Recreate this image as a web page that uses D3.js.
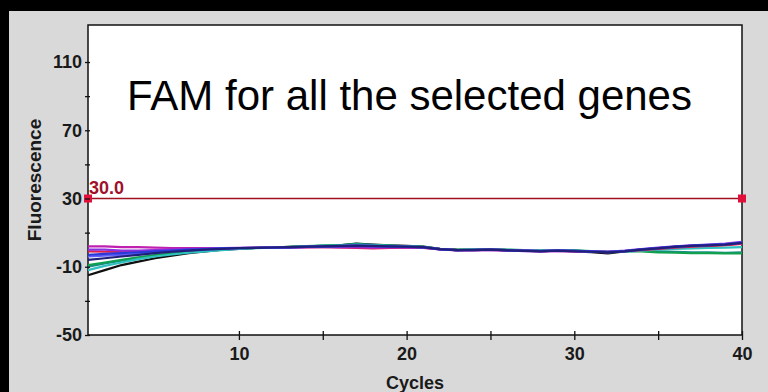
<!DOCTYPE html>
<html>
<head>
<meta charset="utf-8">
<script src="https://cdn.jsdelivr.net/npm/d3@7"></script>
<style>
  html, body { margin: 0; padding: 0; background: #000; }
  svg { display: block; }
</style>
</head>
<body>
<svg id="chart" width="768" height="392"></svg>
<script>
// Amplification curves: fluorescence per cycle for each selected gene (FAM channel)
const cycles = d3.range(1, 41);

const seriesNames = ["g1", "g2", "g3", "g4", "g5", "g6", "g7", "g8", "g9", "g10"];
const seriesColors = ["#101010", "#1a8a8a", "#10a050", "#30c0c0", "#e0204a",
                      "#c020b0", "#8a30e0", "#6060ff", "#2a3ad8", "#20207a"];

const g1 = [-15,-12,-9,-7,-5,-3.5,-2,-1,0,0.5, 1,1.3,1.6,2,2.3,2.6,3.6,3,2.5,2.2, 1.8,0.5,0,-0.2,0,-0.3,-0.6,-1,-0.5,-1, -1.5,-2.2,-1,0,0.8,1.5,2,2.3,2.8,3.8];
const g2 = [-10,-8,-6.5,-5,-3.5,-2.5,-1.5,-0.8,0,0.6, 1,1.2,1.5,2,2.2,2.5,3.4,2.8,2.4,2, 1.6,0.3,-0.2,0,0.2,-0.2,-0.5,-0.6,-0.4,-0.6, -0.9,-1.2,-0.8,-0.6,-1,-1.2,-1.5,-1.6,-1.8,-1.5];
const g3 = [-9,-7.5,-6,-4.5,-3.2,-2.2,-1.3,-0.6,0.2,0.7, 1.1,1.3,1.6,2.1,2.4,2.7,3,2.6,2.3,2.1, 1.7,0.4,0,0.1,0.3,0,-0.3,-0.5,-0.2,-0.4, -0.8,-1.3,-1,-1,-1.6,-1.8,-2,-2,-2.2,-2.2];
const g4 = [-12,-9.5,-7.5,-5.5,-4,-2.8,-1.8,-1,-0.2,0.5, 0.9,1.2,1.5,1.9,2.2,2.4,2.8,2.5,2.2,1.9, 1.5,0.2,-0.2,0,0.1,-0.1,-0.4,-0.7,-0.3,-0.8, -1,-1.5,-1.1,-0.5,0,0.5,0.8,1,1.2,1.5];
const g5 = [-1,-1.2,-1.3,-1,-0.6,-0.2,0.2,0.5,0.8,1, 1.1,1.2,1.3,1.5,1.6,1.3,1,0.8,1,1.3, 1.1,0.2,-0.3,-0.2,0,-0.3,-0.6,-0.8,-0.6,-0.8, -1,-1.3,-0.9,-0.2,0.5,1.2,1.8,2.2,2.6,3.4];
const g6 = [2,2,1.5,1.5,1.2,1,1,1,1,1, 1,1.1,1.2,1.4,1.5,1.4,1.3,1.1,1.2,1.4, 1.2,0.1,-0.4,-0.3,-0.2,-0.5,-0.7,-0.9,-0.8,-1, -1.2,-1.4,-0.9,0.1,0.9,1.6,2.2,2.6,3.1,3.9];
const g7 = [0,0,-0.5,-0.5,-0.3,0,0.3,0.6,0.9,1.1, 1.2,1.3,1.5,1.7,1.9,2.1,2,1.8,1.7,1.5, 1.3,0.4,-0.2,-0.3,-0.1,-0.4,-0.8,-1,-0.7,-0.9, -1.1,-1.3,-0.6,0.4,1.2,2,2.6,3,3.6,4.6];
const g8 = [-4,-3.5,-3,-2.4,-1.7,-1,-0.4,0.1,0.6,0.9, 1,1.2,1.4,1.7,2,2.2,2.6,2.3,2,1.8, 1.5,0.3,-0.2,-0.1,0.1,-0.2,-0.5,-0.7,-0.4,-0.7, -1,-1.3,-0.8,0.1,0.9,1.7,2.3,2.7,3.2,4.3];
const g9 = [-3,-2.5,-2,-1.5,-1,-0.5,0,0.4,0.8,1, 1.1,1.2,1.4,1.6,1.8,2,2.2,2,1.8,1.6, 1.4,0.2,-0.3,-0.2,0,-0.3,-0.6,-0.8,-0.5,-0.7, -1,-1.4,-0.8,0.2,1,1.8,2.4,2.8,3.2,4.2];
const g10 = [-6,-5,-4,-3,-2,-1.2,-0.5,0,0.5,0.9, 1.1,1.3,1.5,1.8,2,2.2,2.4,2.2,2,1.8, 1.5,0.3,-0.2,-0.1,0,-0.4,-0.7,-0.9,-0.6,-0.9, -1.2,-1.6,-1,0,0.8,1.6,2.2,2.5,3,4];

const seriesValues = [g1, g2, g3, g4, g5, g6, g7, g8, g9, g10];

const threshold = 30.0;
const yTicksMajor = [-50, -10, 30, 70, 110];
const yTicksMinor = [-30, 10, 50, 90];
const xTicksMajor = [10, 20, 30, 40];
const xTicksMinor = [15, 25, 35];

const titleText = "FAM for all the selected genes";
const xLabel = "Cycles";
const yLabel = "Fluorescence";

const W = 768, H = 392;
const plot = { left: 88, right: 742, top: 25, bottom: 335 };
const bodyFont = "'Liberation Sans', Arial, sans-serif";

const svg = d3.select("#chart");

// window backdrop: black frame and grey panel
svg.append("rect").attr("x", 0).attr("y", 0).attr("width", W).attr("height", H).attr("fill", "#000");
svg.append("rect").attr("x", 9).attr("y", 11).attr("width", W - 9).attr("height", H - 11).attr("fill", "#d9d9d9");

const x = d3.scaleLinear().domain([1, 40]).range([plot.left, plot.right]);
const y = d3.scaleLinear().domain([-50, 131.7]).range([plot.bottom, plot.top]);

// plot area
svg.append("rect")
  .attr("x", plot.left).attr("y", plot.top)
  .attr("width", plot.right - plot.left).attr("height", plot.bottom - plot.top)
  .attr("fill", "#fff").attr("stroke", "#111").attr("stroke-width", 1.5);

// curves
const line = d3.line()
  .x((d, i) => x(cycles[i]))
  .y(d => y(d));

const curves = svg.append("g").attr("fill", "none").attr("stroke-width", 2.2);
seriesValues.forEach((vals, k) => {
  curves.append("path")
    .attr("d", line(vals))
    .attr("stroke", seriesColors[k])
    .attr("data-name", seriesNames[k]);
});

// threshold line with end handles
svg.append("line")
  .attr("x1", x(1)).attr("x2", x(40))
  .attr("y1", y(threshold)).attr("y2", y(threshold))
  .attr("stroke", "#a01020").attr("stroke-width", 1.5);
[1, 40].forEach(c => {
  svg.append("rect")
    .attr("x", x(c) - 4).attr("y", y(threshold) - 4)
    .attr("width", 8).attr("height", 8)
    .attr("fill", "#e0103a");
});
svg.append("text")
  .attr("x", x(1) + 1).attr("y", y(threshold) - 5)
  .attr("font-family", bodyFont).attr("font-weight", "bold").attr("font-size", 18)
  .attr("fill", "#a0102a")
  .text(threshold.toFixed(1));

// axes
const fmt = d => String(d);
const yAxis = d3.axisLeft(y).tickValues(yTicksMajor).tickSize(3).tickPadding(3).tickFormat(fmt);
svg.append("g").attr("transform", `translate(${plot.left},0)`).call(yAxis);
const yMinor = d3.axisLeft(y).tickValues(yTicksMinor).tickSize(3).tickFormat("");
svg.append("g").attr("transform", `translate(${plot.left},0)`).call(yMinor);

const xAxis = d3.axisBottom(x).tickValues(xTicksMajor).tickSize(5).tickPadding(7).tickFormat(fmt);
svg.append("g").attr("transform", `translate(0,${plot.bottom})`).call(xAxis);
const xMinor = d3.axisBottom(x).tickValues(xTicksMinor).tickSize(5).tickFormat("");
svg.append("g").attr("transform", `translate(0,${plot.bottom})`).call(xMinor);

svg.selectAll(".domain").remove();
svg.selectAll(".tick line").attr("stroke", "#111").attr("stroke-width", 1.3);
// ticks also reach slightly into the plot
svg.selectAll(".tick line").each(function() {
  const l = d3.select(this);
  if (l.attr("x2") !== null && +l.attr("x2") !== 0) l.attr("x1", 2);
  if (l.attr("y2") !== null && +l.attr("y2") !== 0) l.attr("y1", -4);
});
svg.selectAll(".tick text")
  .attr("font-family", bodyFont).attr("font-weight", "bold").attr("font-size", 18)
  .attr("fill", "#1a1a1a");

// axis titles
svg.append("text")
  .attr("x", (plot.left + plot.right) / 2).attr("y", 389)
  .attr("text-anchor", "middle")
  .attr("font-family", bodyFont).attr("font-weight", "bold").attr("font-size", 18)
  .attr("fill", "#1a1a1a")
  .text(xLabel);
svg.append("text")
  .attr("transform", `translate(41,${(plot.top + plot.bottom) / 2}) rotate(-90)`)
  .attr("text-anchor", "middle")
  .attr("font-family", bodyFont).attr("font-weight", "bold").attr("font-size", 19)
  .attr("fill", "#1a1a1a")
  .text(yLabel);

// heading inside the plot
svg.append("text")
  .attr("x", 127).attr("y", 110)
  .attr("font-family", bodyFont).attr("font-size", 42)
  .attr("fill", "#000")
  .text(titleText);
</script>
</body>
</html>
